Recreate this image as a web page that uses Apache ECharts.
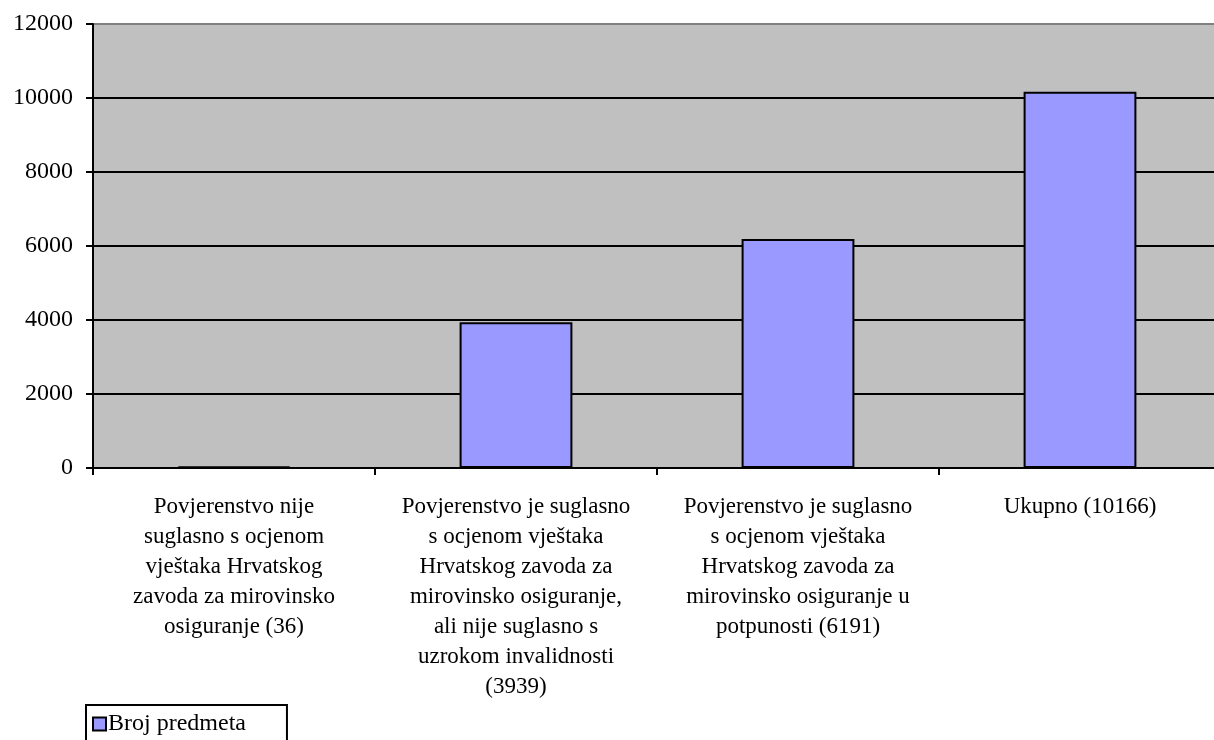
<!DOCTYPE html>
<html>
<head>
<meta charset="utf-8">
<script src="https://cdn.jsdelivr.net/npm/echarts@6/dist/echarts.min.js"></script>
<style>html,body{margin:0;padding:0;background:#fff}#c{width:1214px;height:740px}</style>
</head>
<body>
<div id="c"></div>
<script>
const categories = [
  "Povjerenstvo nije\nsuglasno s ocjenom\nvještaka Hrvatskog\nzavoda za mirovinsko\nosiguranje (36)",
  "Povjerenstvo je suglasno\ns ocjenom vještaka\nHrvatskog zavoda za\nmirovinsko osiguranje,\nali nije suglasno s\nuzrokom invalidnosti\n(3939)",
  "Povjerenstvo je suglasno\ns ocjenom vještaka\nHrvatskog zavoda za\nmirovinsko osiguranje u\npotpunosti (6191)",
  "Ukupno (10166)"
];
const seriesName = "Broj predmeta";
const values = [36, 3939, 6191, 10166];

const font = "'Liberation Serif','Times New Roman',serif";
const chart = echarts.init(document.getElementById('c'), null, {renderer: 'canvas'});
chart.setOption({
  animation: false,
  grid: {
    left: 93, width: 1128, top: 24, height: 444,
    outerBoundsMode: 'none', containLabel: false,
    show: true, backgroundColor: '#C0C0C0', borderColor: '#808080', borderWidth: 2
  },
  legend: {
    data: [seriesName],
    left: 86, top: 705,
    itemWidth: 13, itemHeight: 13, itemGap: 2,
    padding: [7, 41, 8, 6],
    borderColor: '#000', borderWidth: 2,
    backgroundColor: '#fff',
    textStyle: {fontFamily: font, fontSize: 24, color: '#000', padding: [0, 0, 0, -3]},
    icon: 'rect',
    itemStyle: {borderColor: '#000', borderWidth: 2}
  },
  xAxis: {
    type: 'category',
    data: categories,
    axisLine: {lineStyle: {color: '#000', width: 2}},
    axisTick: {show: true, length: 7, lineStyle: {color: '#000', width: 2}},
    axisLabel: {interval: 0, fontFamily: font, fontSize: 23, color: '#000', lineHeight: 30, margin: 24, align: 'center'},
    splitLine: {show: false}
  },
  yAxis: {
    type: 'value',
    min: 0, max: 12000, interval: 2000,
    axisLine: {show: true, lineStyle: {color: '#000', width: 2}},
    axisTick: {show: true, length: 7, lineStyle: {color: '#000', width: 2}},
    axisLabel: {fontFamily: font, fontSize: 24, color: '#000', margin: 20, formatter: v => String(v)},
    splitLine: {show: true, showMaxLine: false, lineStyle: {color: '#000', width: 2}}
  },
  series: [{
    name: seriesName,
    type: 'bar',
    data: values,
    barWidth: '40%',
    itemStyle: {color: '#9999FF', borderColor: '#000', borderWidth: 2}
  }]
});
</script>
</body>
</html>
